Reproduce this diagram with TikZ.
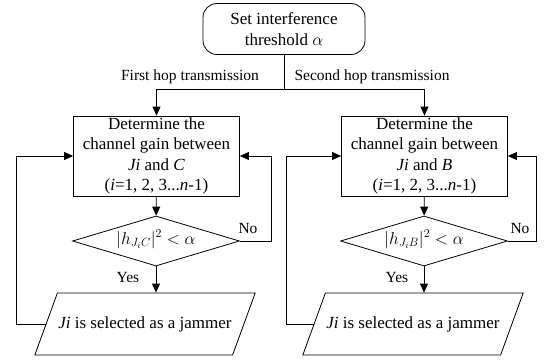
\documentclass[tikz,border=0pt]{standalone}
\usepackage{fontspec}
\setmainfont{Liberation Serif}
\usepackage{amsmath}
\usetikzlibrary{arrows.meta,shapes.geometric}
\tikzstyle{start}=[draw,rectangle,rounded corners=14pt,minimum width=162pt,minimum height=51pt,align=center,inner sep=0pt]
\tikzstyle{process}=[draw,rectangle,minimum width=166pt,minimum height=80pt,align=center,inner sep=0pt]
\tikzstyle{decision}=[draw,diamond,aspect=3.3,minimum width=167pt,minimum height=50pt,inner sep=0pt,text height=8pt,text depth=2pt]
\tikzstyle{io}=[draw,trapezium,trapezium left angle=70,trapezium right angle=110,text height=12pt,text depth=4pt,inner ysep=23pt,inner xsep=1pt]
\tikzstyle{edgetext}=[font=\fontsize{15.5}{18}\selectfont]
\tikzstyle{line}=[draw,-{Triangle[length=9pt,width=8pt]}]

\begin{document}
\begin{tikzpicture}[x=1pt,y=-1pt,line width=0.8pt,font=\fontsize{17}{20.5}\selectfont]
  \useasboundingbox (0,0) rectangle (544,360);
  \node[start] (thr) at (284,29) {Set interference\\threshold $\alpha$};
  % first hop
  \node[process] (detC) at (156.5,156) {Determine the\\channel gain between\\\textit{Ji} and \textit{C}\\(\textit{i}=1, 2, 3...\textit{n}-1)};
  \node[decision] (decC) at (156,241) {\fontsize{18}{20}\selectfont$|h_{J_iC}|^2<\alpha$};
  \node[io] (selC) at (145,324) {\textit{Ji} is selected as a jammer};
  % second hop
  \node[process] (detB) at (424.5,156) {Determine the\\channel gain between\\\textit{Ji} and \textit{B}\\(\textit{i}=1, 2, 3...\textit{n}-1)};
  \node[decision] (decB) at (424,241) {\fontsize{18}{20}\selectfont$|h_{J_iB}|^2<\alpha$};
  \node[io] (selB) at (413,324) {\textit{Ji} is selected as a jammer};
  % branches
  \coordinate (split) at (284,89);
  \draw (thr) -- (split);
  \draw[line] (split) -| (detC);
  \draw[line] (split) -| (detB);
  \node[edgetext] (hop1) at (190,77) {First hop transmission};
  \node[edgetext] (hop2) at (372,77) {Second hop transmission};
  % flow and loops
  \draw[line] (detC) -- (decC);
  \draw[line] (decC.south) -- (decC.south |- selC.north);
  \draw[line] (decC.east) -- ++(31.5,0) |- (detC.east);
  \draw[line] (selC.west) -- ++(-29,0) |- (detC.west);
  \draw[line] (detB) -- (decB);
  \draw[line] (decB.south) -- (decB.south |- selB.north);
  \draw[line] (decB.east) -- ++(28,0) |- (detB.east);
  \draw[line] (selB.west) -- ++(-27,0) |- (detB.west);
  \node[edgetext] (noC) at (248,228) {No};
  \node[edgetext] (noB) at (520,228) {No};
  \node[edgetext] (yesC) at (128,277) {Yes};
  \node[edgetext] (yesB) at (397,277) {Yes};
\end{tikzpicture}
\end{document}
